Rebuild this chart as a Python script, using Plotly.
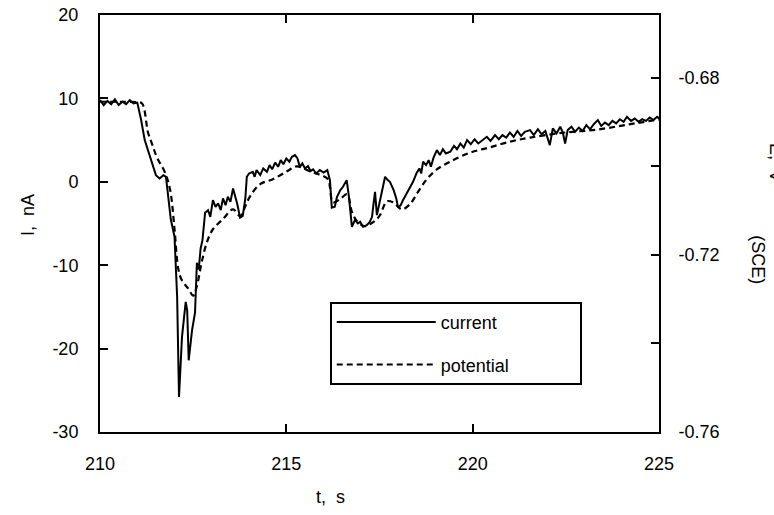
import plotly.graph_objects as go

# ---- data ----
t_current = [210.0, 210.1, 210.2, 210.3, 210.4, 210.5, 210.6, 210.7, 210.8, 210.9, 211.0,
             211.1, 211.2, 211.3, 211.4, 211.5, 211.6, 211.7, 211.77, 211.85, 211.9, 212.0,
             212.07, 212.12, 212.2, 212.3, 212.34, 212.38, 212.47, 212.55, 212.6, 212.65,
             212.7, 212.75, 212.82, 212.9, 212.96, 213.03, 213.1, 213.17, 213.24, 213.3,
             213.37, 213.43, 213.5, 213.57, 213.62, 213.68, 213.76, 213.83, 213.9, 213.94,
             214.0, 214.1, 214.15, 214.2, 214.3, 214.38, 214.48, 214.55, 214.62, 214.7,
             214.78, 214.85, 214.92, 215.0, 215.08, 215.15, 215.23, 215.3, 215.36, 215.43,
             215.5, 215.58, 215.65, 215.72, 215.8, 215.9, 216.0, 216.1, 216.17, 216.22,
             216.3, 216.36, 216.45, 216.52, 216.62, 216.68, 216.76, 216.84, 216.92, 216.98,
             217.06, 217.16, 217.24, 217.3, 217.33, 217.38, 217.43, 217.5, 217.58, 217.65,
             217.72, 217.78, 217.88, 217.95, 218.0, 218.07, 218.13, 218.22, 218.32, 218.4,
             218.5, 218.57, 218.62, 218.67, 218.75, 218.82, 218.88, 218.95, 219.04, 219.12,
             219.2, 219.28, 219.4, 219.5, 219.58, 219.67, 219.76, 219.85, 219.95, 220.05,
             220.15, 220.28, 220.38, 220.48, 220.6, 220.7, 220.8, 220.9, 221.0, 221.1,
             221.2, 221.3, 221.4, 221.54, 221.64, 221.75, 221.85, 221.95, 222.07, 222.15,
             222.25, 222.35, 222.42, 222.48, 222.55, 222.65, 222.75, 222.85, 222.95, 223.05,
             223.15, 223.25, 223.36, 223.45, 223.55, 223.65, 223.75, 223.85, 223.95, 224.05,
             224.14, 224.25, 224.35, 224.45, 224.55, 224.65, 224.75, 224.85, 224.95, 225.0]
current_nA = [9.8, 9.2, 9.7, 9.3, 9.9, 9.2, 9.6, 9.3, 9.8, 9.4, 9.5,
              7.5, 5.0, 3.5, 2.0, 0.8, 0.4, 0.8, 0.6, -3.0, -4.5, -6.6,
              -13.8, -25.8, -18.6, -14.4, -15.4, -21.4, -17.8, -15.7, -9.7, -10.5,
              -8.0, -7.0, -3.7, -3.4, -4.2, -2.2, -3.0, -2.6, -3.4, -2.0,
              -2.8, -1.8, -2.4, -0.8, -1.6, -2.6, -4.3, -4.1, -2.0, 0.6,
              1.0, 1.2, 0.6, 1.4, 0.8, 1.6, 1.2, 2.0, 1.5, 2.3,
              1.8, 2.6, 2.1, 2.8, 2.4, 3.0, 3.2, 2.8, 1.8, 2.2,
              1.6, 1.9, 1.3, 1.5, 1.0, 1.4, 1.1, 1.4, 0.2, -3.1,
              -3.0, -1.8, -1.0, -0.6, 0.2, -1.8, -5.4, -4.6, -5.0, -4.8,
              -5.4, -5.2, -4.8, -4.2, -3.0, -1.2, -4.0, -2.5, -0.5, 0.6,
              0.2, 0.0, -1.0, -2.0, -3.1, -2.8, -2.2, -1.5, -0.6, 0.0,
              1.1, 1.6, 1.0, 2.4, 2.0, 2.6, 1.8, 2.9, 3.8, 3.2,
              3.9, 3.4, 3.6, 4.3, 3.9, 4.6, 4.1, 5.0, 4.5, 5.1,
              4.6, 5.0, 5.4, 4.9, 5.6, 5.1, 5.6, 5.3, 5.9, 5.4,
              6.1, 5.5, 6.0, 6.2, 5.6, 6.3, 5.7, 6.1, 4.4, 6.4,
              5.8, 6.6, 5.9, 4.6, 6.2, 6.6, 6.0, 6.5, 6.1, 6.8,
              6.3, 6.9, 7.4, 6.7, 7.1, 6.8, 7.3, 7.0, 7.5, 7.2,
              7.8, 7.3, 7.6, 7.2, 7.5, 7.3, 7.7, 7.4, 7.8, 7.6]

t_potential = [210.0, 210.5, 211.0, 211.13, 211.29, 211.4, 211.53, 211.74, 211.88, 212.0,
               212.1, 212.2, 212.37, 212.5, 212.6, 212.73, 212.87, 213.03, 213.3, 213.57,
               213.76, 213.9, 214.03, 214.3, 214.64, 215.02, 215.28, 215.63, 216.12, 216.17,
               216.25, 216.44, 216.63, 216.76, 216.9, 217.1, 217.33, 217.5, 217.7, 217.86,
               218.1, 218.32, 218.53, 218.77, 219.04, 219.4, 219.93, 220.46, 221.0, 221.54,
               222.42, 223.33, 224.2, 225.0]
potential_V = [-0.6854, -0.6854, -0.6855, -0.6858, -0.6924, -0.6950, -0.6980, -0.7013, -0.7052, -0.7142,
               -0.7231, -0.7258, -0.7276, -0.7292, -0.7270, -0.7216, -0.7171, -0.7142, -0.7119, -0.7097,
               -0.7112, -0.7090, -0.7067, -0.7040, -0.7029, -0.7011, -0.7000, -0.7011, -0.7029, -0.7047,
               -0.7081, -0.7074, -0.7063, -0.7103, -0.7124, -0.7135, -0.7126, -0.7112, -0.7079, -0.7081,
               -0.7097, -0.7085, -0.7058, -0.7029, -0.7007, -0.6989, -0.6969, -0.6957, -0.6944, -0.6935,
               -0.6924, -0.6917, -0.6905, -0.6894]

x_ticks = [210, 215, 220, 225]
y_ticks = [-30, -20, -10, 0, 10, 20]
y_ticktext = ["-30", "-20", "-10", "0", "10", "20"]
y2_ticks = [-0.76, -0.72, -0.68]
y2_ticktext = ["-0.76", "-0.72", "-0.68"]

FONT = "Arial, Liberation Sans, sans-serif"
PAD = "\u00a0" * 13

fig = go.Figure()
fig.add_trace(go.Scatter(x=t_current, y=current_nA, mode="lines", name="current" + PAD,
                         legendgroup="a",
                         line=dict(color="black", width=2)))
fig.add_trace(go.Scatter(x=t_potential, y=potential_V, mode="lines", name="potential" + PAD,
                         legendgroup="b", yaxis="y2",
                         line=dict(color="black", width=2.2, dash="6px,4px", shape="spline")))

axis_common = dict(showgrid=False, zeroline=False, showline=True, linecolor="black",
                   linewidth=2, ticks="inside", ticklen=8, tickwidth=1.5, tickcolor="black",
                   ticklabeloverflow="allow",
                   tickfont=dict(family=FONT, size=18, color="black"))

fig.update_layout(
    width=774, height=515,
    margin=dict(l=100, r=115, t=15, b=83, autoexpand=False),
    paper_bgcolor="white", plot_bgcolor="white",
    font=dict(family=FONT, size=18, color="black"),
    xaxis=dict(range=[210, 225], tickvals=x_ticks, mirror="ticks",
               ticklabelstandoff=14, **axis_common),
    yaxis=dict(range=[-30, 20], tickvals=y_ticks, ticktext=y_ticktext,
               ticklabelstandoff=16, **axis_common),
    yaxis2=dict(range=[-0.76, -0.6658], overlaying="y", side="right",
                tickvals=y2_ticks, ticktext=y2_ticktext, ticklabelstandoff=14,
                minor=dict(tickvals=[-0.74, -0.70], ticks="inside", ticklen=8,
                           tickwidth=1.5, tickcolor="black"),
                **axis_common),
    showlegend=True,
    legend=dict(x=0.411, y=0.312, xanchor="left", yanchor="top",
                bordercolor="black", borderwidth=2, bgcolor="white",
                font=dict(family=FONT, size=18, color="black"),
                tracegroupgap=16, itemwidth=99),
    annotations=[
        dict(text="t,  s", xref="paper", yref="paper", x=0.413, y=-0.156,
             xanchor="center", yanchor="middle", showarrow=False, font=dict(size=18)),
        dict(text="I,  nA", xref="paper", yref="paper", x=-0.129, y=0.52,
             xanchor="center", yanchor="middle",
             textangle=-90, showarrow=False, font=dict(size=18)),
        dict(text="E,  V", xref="paper", yref="paper", x=1.2093, y=0.645,
             xanchor="center", yanchor="middle",
             textangle=90, showarrow=False, font=dict(size=18)),
        dict(text="(SCE)", xref="paper", yref="paper", x=1.177, y=0.412,
             xanchor="center", yanchor="middle",
             textangle=90, showarrow=False, font=dict(size=18)),
    ],
)

fig.write_html("out.html", config={"displayModeBar": False},
               post_script="document.body.style.margin='0';document.body.style.overflow='hidden';")
